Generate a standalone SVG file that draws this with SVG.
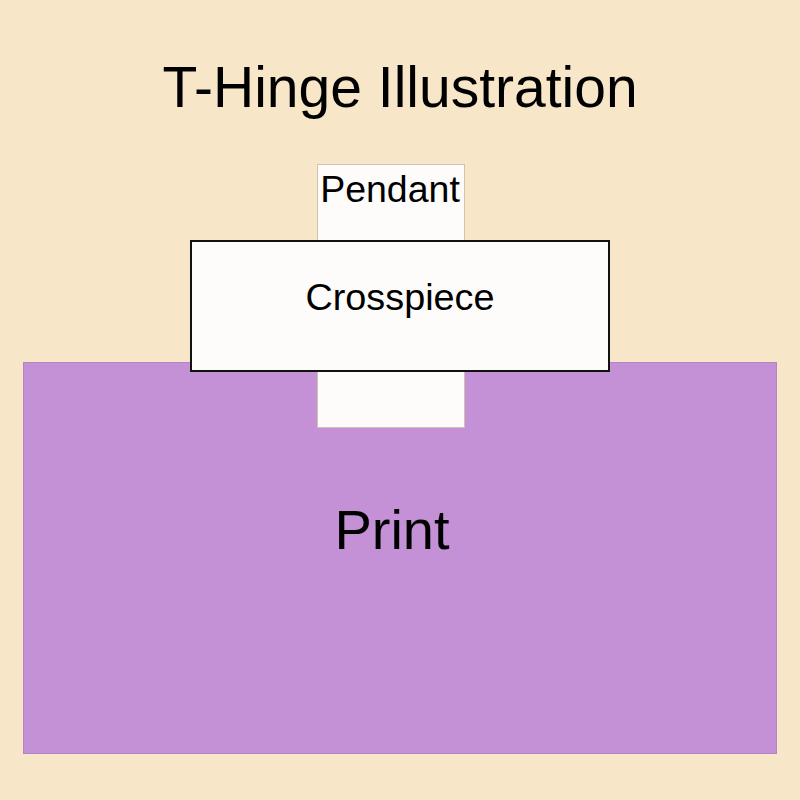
<svg xmlns="http://www.w3.org/2000/svg" width="800" height="800" viewBox="0 0 800 800">
<style>
text{font-family:"Liberation Sans",Arial,sans-serif;fill:#000;text-anchor:middle}
.piece{fill:#fdfcfb}
</style>
<rect width="800" height="800" fill="#f7e6c7"/>
<text x="400" y="107" font-size="57">T-Hinge Illustration</text>
<g id="print">
<rect x="23.5" y="362.5" width="753" height="391" fill="#c491d6" stroke="#b583c6" stroke-width="1"/>
<text x="392" y="549" font-size="56">Print</text>
</g>
<g id="pendant">
<rect class="piece" x="317.5" y="164.5" width="147" height="263" stroke="#cfc3b0" stroke-width="1"/>
<text x="390" y="202" font-size="37.5">Pendant</text>
</g>
<g id="crosspiece">
<rect class="piece" x="191" y="241" width="418" height="130" stroke="#111" stroke-width="2"/>
<text x="400" y="310" font-size="37.8">Crosspiece</text>
</g>
<g id="connectors"/>
</svg>
